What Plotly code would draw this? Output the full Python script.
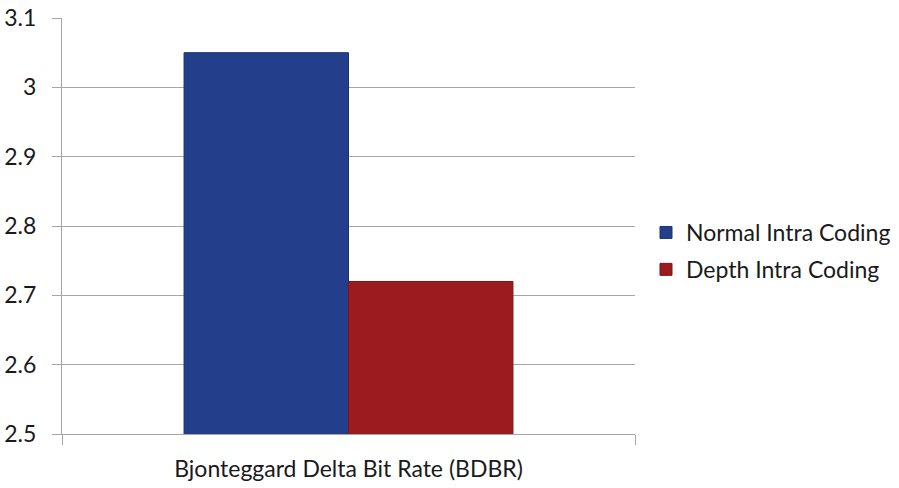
import plotly.graph_objects as go

# BDBR comparison between intra coding modes
categories = ["Bjonteggard Delta Bit Rate (BDBR)"]
series_names = ["Normal Intra Coding", "Depth Intra Coding"]
normal_values = [3.05]
depth_values = [2.72]
y_ticks = [2.5, 2.6, 2.7, 2.8, 2.9, 3.0, 3.1]
y_tick_labels = ["2.5", "2.6", "2.7", "2.8", "2.9", "3", "3.1"]

FONT = "Lato, Open Sans, sans-serif"
GRID = "#a6a6a6"

fig = go.Figure()
fig.add_trace(go.Bar(
    x=categories, y=normal_values, name=series_names[0], legendgroup="normal",
    marker=dict(color="#233f8b", line=dict(color="#1c3270", width=1)),
))
fig.add_trace(go.Bar(
    x=categories, y=depth_values, name=series_names[1], legendgroup="depth",
    marker=dict(color="#9b1b1f", line=dict(color="#7d1518", width=1)),
))

fig.update_layout(
    width=899, height=488,
    margin=dict(l=62, r=264, t=18, b=54),
    paper_bgcolor="white", plot_bgcolor="white",
    barmode="group", bargap=0.426, bargroupgap=0,
    font=dict(family=FONT, size=23, color="#1a1a1a"),
    legend=dict(
        xref="container", yref="container",
        x=646 / 899, y=1 - 211 / 488, xanchor="left", yanchor="top",
        font=dict(family=FONT, size=23, color="#1a1a1a"),
        bgcolor="rgba(0,0,0,0)",
        tracegroupgap=4,
    ),
    showlegend=True,
)
fig.update_yaxes(
    range=[2.5, 3.1], tickmode="array", tickvals=y_ticks, ticktext=y_tick_labels,
    automargin=False,
    showgrid=True, gridcolor=GRID, gridwidth=1,
    showline=True, linecolor=GRID, linewidth=1,
    ticks="outside", ticklen=9, tickcolor=GRID,
    ticklabelstandoff=11, zeroline=False,
    tickfont=dict(family=FONT, size=23, color="#1a1a1a"),
)
fig.update_xaxes(
    automargin=False,
    showline=True, linecolor=GRID, linewidth=1,
    ticks="outside", tickson="boundaries", ticklen=10, tickcolor=GRID,
    ticklabelstandoff=14,
    tickfont=dict(family=FONT, size=23, color="#1a1a1a"),
)

fig.write_html("out.html")
